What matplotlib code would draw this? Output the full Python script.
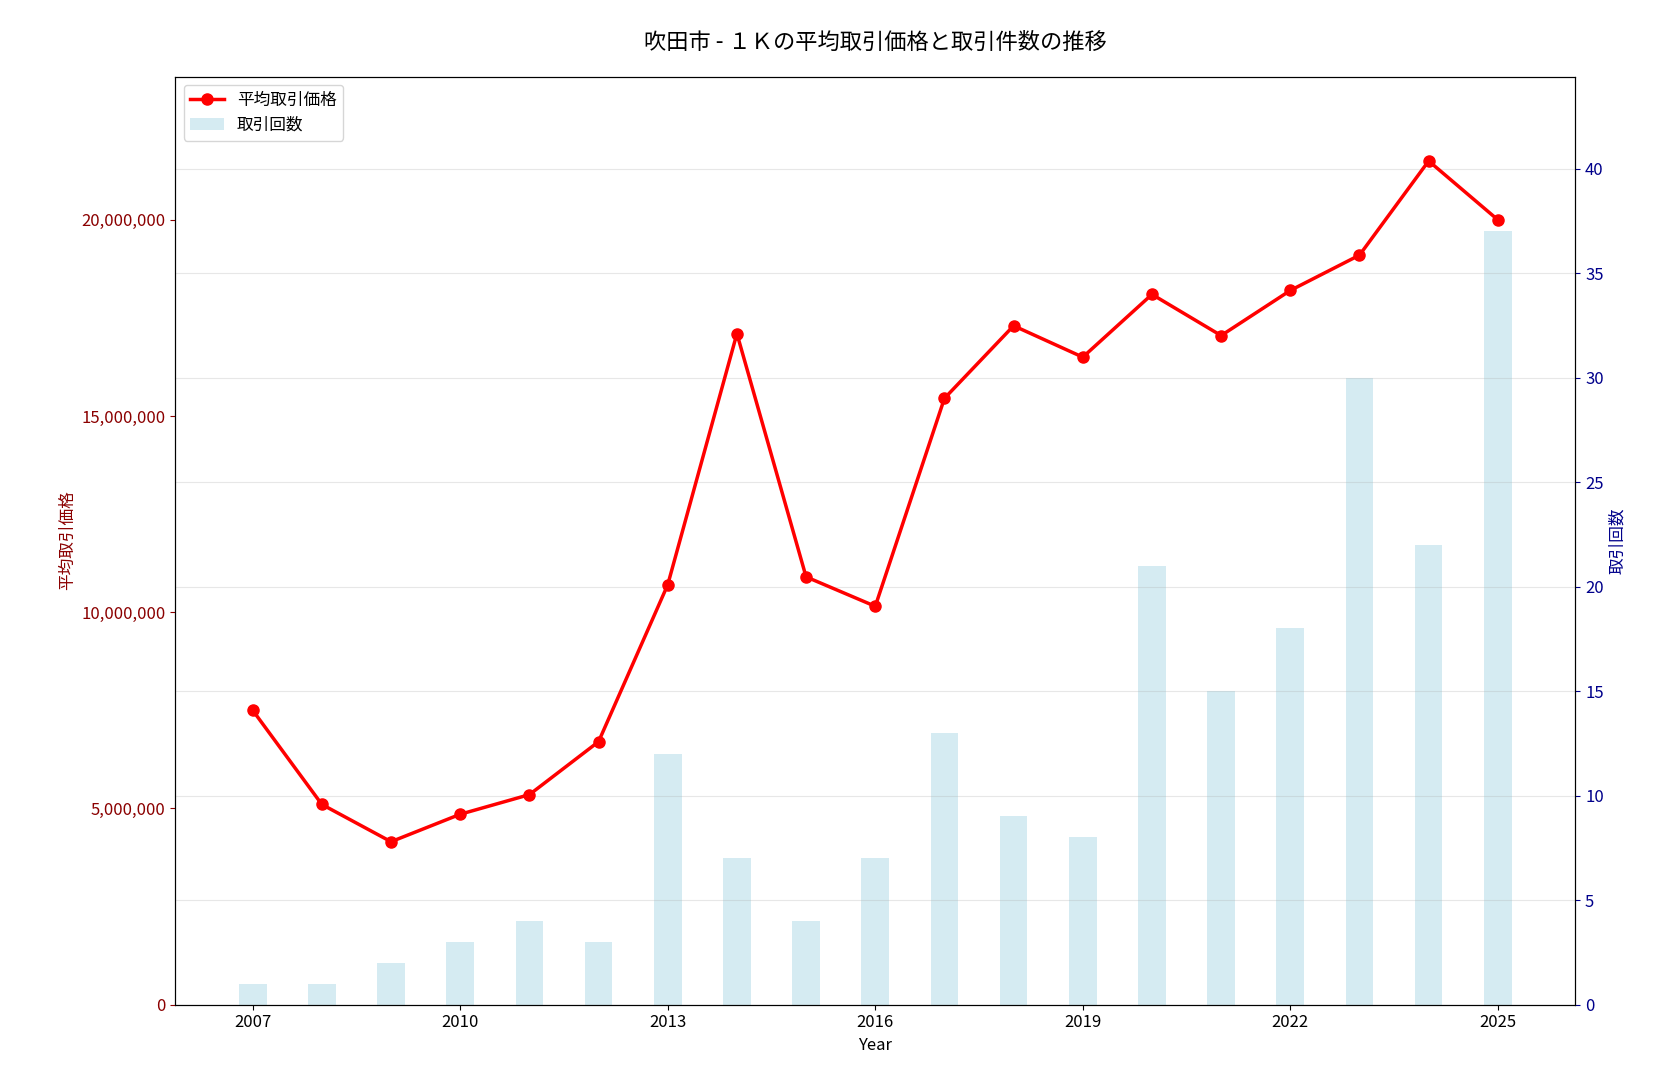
import matplotlib
matplotlib.use("Agg")
import matplotlib.pyplot as plt
import matplotlib.ticker as mticker

plt.rcParams['font.family'] = ['Noto Sans CJK JP', 'DejaVu Sans']

years = list(range(2007, 2026))
avg_price = [7500000, 5100000, 4150000, 4850000, 5350000, 6700000, 10700000, 17100000,
             10900000, 10150000, 15450000, 17300000, 16500000, 18100000, 17050000,
             18200000, 19100000, 21500000, 20000000]
counts = [1, 1, 2, 3, 4, 3, 12, 7, 4, 7, 13, 9, 8, 21, 15, 18, 30, 22, 37]

fig, ax1 = plt.subplots(figsize=(16.53, 10.79), dpi=100)
ax2 = ax1.twinx()

# bars on the right axis, line on the left axis drawn on top
ax2.bar(years, counts, width=0.4, color='lightblue', alpha=0.5, label='取引回数')
ax2.set_ylim(0, max(counts) * 1.2)
ax2.set_ylabel('取引回数', color='darkblue', fontsize=12)
ax2.tick_params(axis='y', colors='darkblue', labelsize=12)
ax2.grid(True, axis='y', alpha=0.3)

ax1.set_zorder(ax2.get_zorder() + 1)
ax1.patch.set_visible(False)
line, = ax1.plot(years, avg_price, color='red', marker='o', linewidth=2.5, markersize=8, label='平均取引価格')
ax1.set_ylim(0, max(avg_price) * 1.1)
ax1.yaxis.set_major_formatter(mticker.FuncFormatter(lambda x, p: f'{int(x):,}'))
ax1.set_ylabel('平均取引価格', color='darkred', fontsize=12)
ax1.tick_params(axis='y', colors='darkred', labelsize=12)
ax1.tick_params(axis='x', labelsize=12)
ax1.set_xlabel('Year', fontsize=12)
ax1.set_xticks(range(2007, 2026, 3))

h1, l1 = ax1.get_legend_handles_labels()
h2, l2 = ax2.get_legend_handles_labels()
ax1.legend(h1 + h2, l1 + l2, loc='upper left', fontsize=12)

plt.title('吹田市 - １Ｋの平均取引価格と取引件数の推移', fontsize=16, pad=20)
plt.subplots_adjust(left=0.106, right=0.953, top=0.929, bottom=0.069)
plt.savefig('out.png')
